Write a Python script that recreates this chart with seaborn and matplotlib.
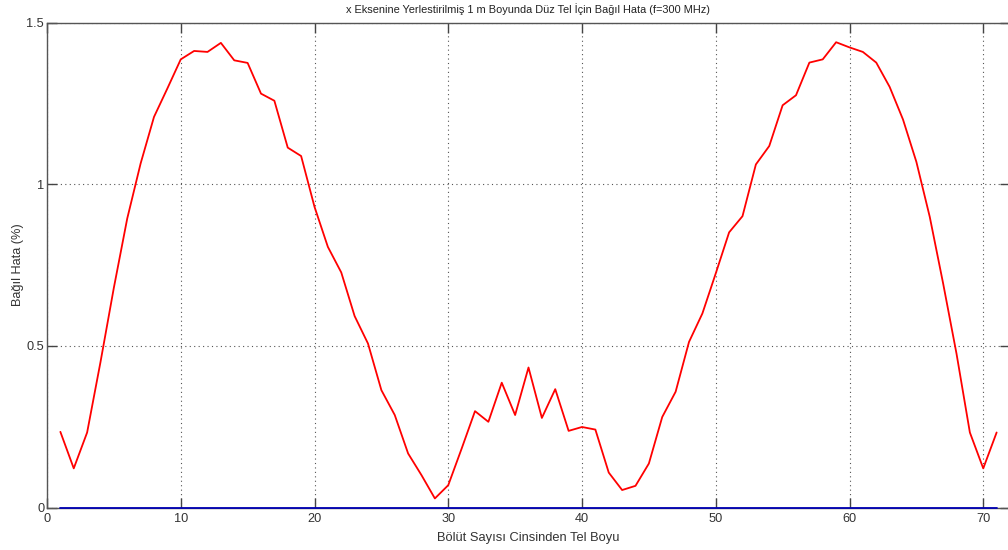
import numpy as np
import pandas as pd
import matplotlib
matplotlib.use("Agg")
import matplotlib.pyplot as plt
import seaborn as sns

# Data
segments = list(range(1, 72))
relative_error = [
    0.234, 0.121, 0.232, 0.450, 0.680, 0.894, 1.064, 1.208, 1.296, 1.386,
    1.412, 1.409, 1.437, 1.383, 1.375, 1.280, 1.258, 1.113, 1.087, 0.930,
    0.806, 0.727, 0.592, 0.507, 0.363, 0.286, 0.167, 0.100, 0.028, 0.069,
    0.182, 0.298, 0.265, 0.386, 0.286, 0.433, 0.277, 0.366, 0.237, 0.249,
    0.241, 0.108, 0.054, 0.067, 0.136, 0.280, 0.358, 0.512, 0.600, 0.724,
    0.851, 0.901, 1.061, 1.118, 1.244, 1.275, 1.376, 1.386, 1.439, 1.423,
    1.409, 1.376, 1.301, 1.200, 1.069, 0.899, 0.693, 0.476, 0.232, 0.121,
    0.232,
]
zero_line = [0.0] * len(segments)

x_ticks = [0, 10, 20, 30, 40, 50, 60, 70]
y_ticks = [0, 0.5, 1, 1.5]
y_tick_labels = ["0", "0.5", "1", "1.5"]

title = "x Eksenine Yerlestirilmiş 1 m Boyunda Düz Tel İçin Bağıl Hata (f=300 MHz)"
xlabel = "Bölüt Sayısı Cinsinden Tel Boyu"
ylabel = "Bağıl Hata (%)"

df = pd.DataFrame({"seg": segments, "err": relative_error, "zero": zero_line})

sns.set_style("white")
plt.rcParams["font.family"] = ["Liberation Sans", "DejaVu Sans"]

fig = plt.figure(figsize=(10.08, 5.5), dpi=100)
ax = fig.add_axes([47 / 1008, 42.5 / 550, 963 / 1008, 485 / 550])

sns.lineplot(data=df, x="seg", y="zero", ax=ax, color=(0, 0, 0.7), linewidth=1.3)
sns.lineplot(data=df, x="seg", y="err", ax=ax, color=(1, 0, 0), linewidth=1.3)
for ln in ax.get_lines():
    ln.set_zorder(3)
    ln.set_clip_on(False)

ax.set_xlim(0, 72)
ax.set_ylim(0, 1.5)
ax.set_xticks(x_ticks)
ax.set_xticklabels([str(t) for t in x_ticks])
ax.set_yticks(y_ticks)
ax.set_yticklabels(y_tick_labels)

ax.grid(True, linestyle=(0, (1, 3)), color="#555555", linewidth=0.8)
ax.set_axisbelow(True)

for s in ax.spines.values():
    s.set_visible(True)
    s.set_color("#555555")
    s.set_linewidth(1.0)
    s.set_zorder(2.5)

ax.tick_params(axis="x", pad=4)
ax.tick_params(axis="y", pad=2)
ax.tick_params(direction="in", length=7, width=1.0, color="#444444",
               labelcolor="#333333", labelsize=9.2, top=True, right=True,
               left=True, bottom=True)

ax.set_title(title, fontsize=7.9, color="#222222", pad=7)
ax.set_xlabel(xlabel, fontsize=9.3, color="#333333", labelpad=5)
ax.set_ylabel(ylabel, fontsize=9.2, color="#333333", labelpad=2)

fig.savefig("out.png", dpi=100)
